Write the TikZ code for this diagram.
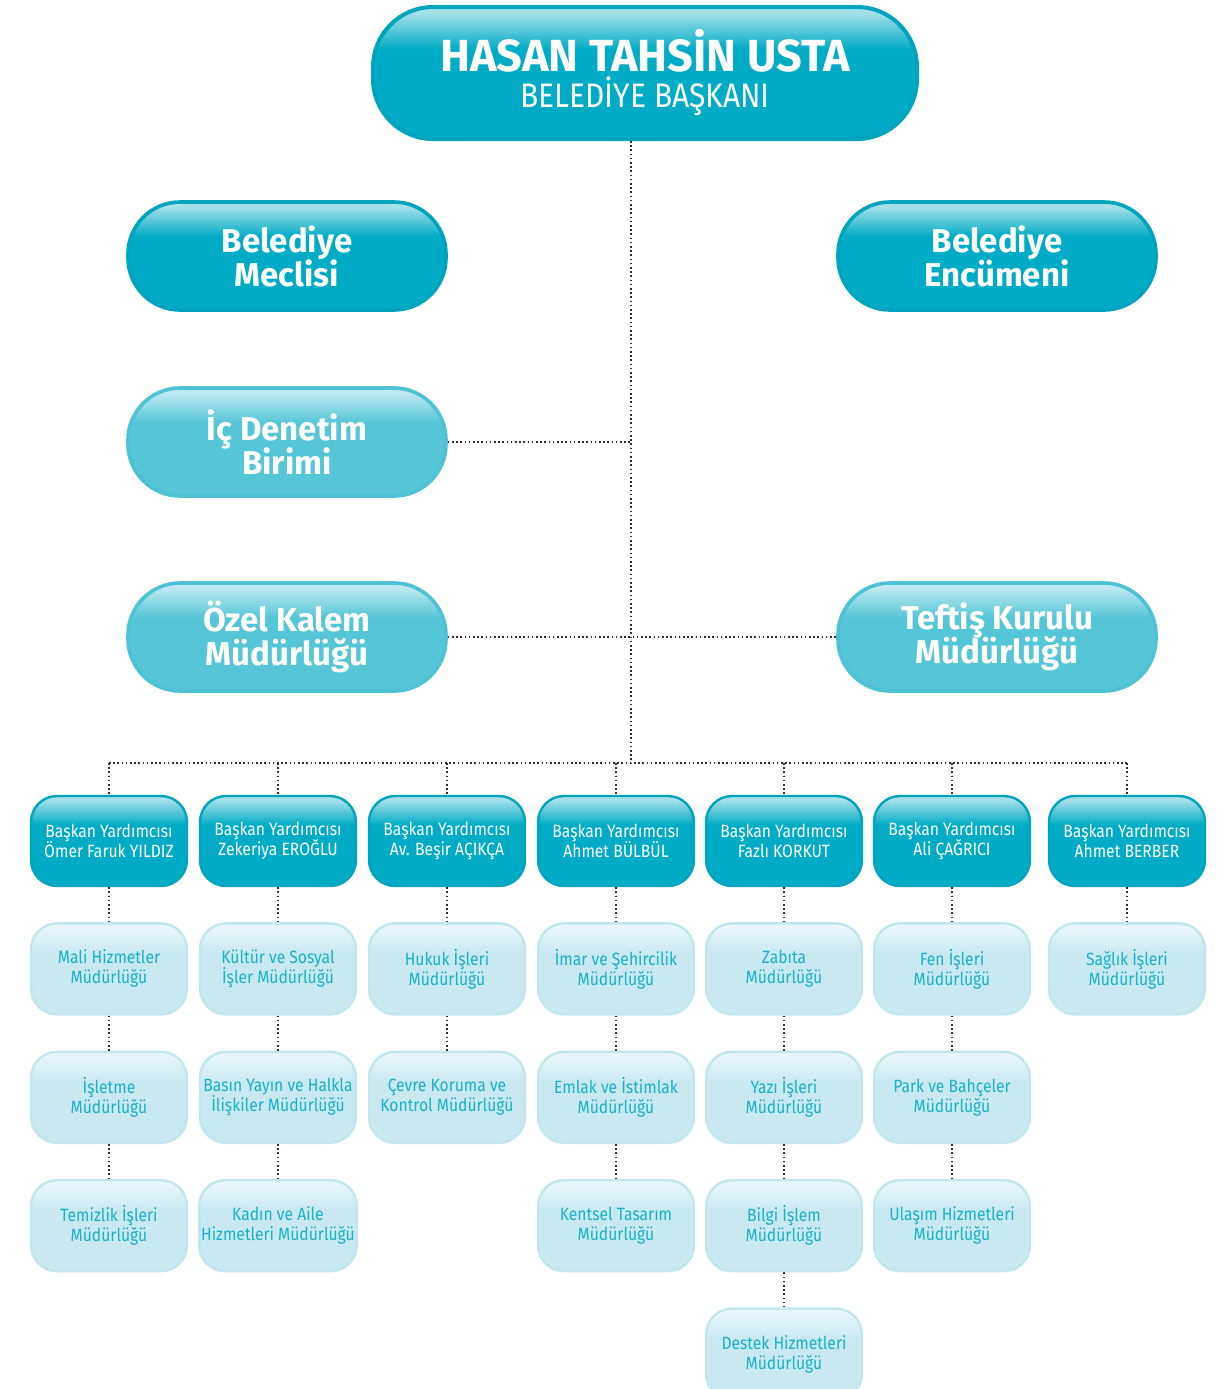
\documentclass[tikz,border=0pt]{standalone}
\usepackage{fontspec}
\setmainfont{Fira Sans}[FakeStretch=0.88]
\newfontfamily\headfont{Fira Sans}
\usepackage{tikz}
\usetikzlibrary{positioning,calc}
\newcommand{\tightlines}{\lineskiplimit -100pt\relax}
\definecolor{tealDark}{HTML}{00ACC5}
\definecolor{tealDarkHi}{HTML}{A6E0EA}
\definecolor{tealDarkEdge}{HTML}{00A4BD}
\definecolor{tealMid}{HTML}{55C6D8}
\definecolor{tealMidHi}{HTML}{BFE9F0}
\definecolor{tealMidEdge}{HTML}{4EC2D5}
\definecolor{tealLight}{HTML}{C9E9F0}
\definecolor{tealLightHi}{HTML}{EAF7FA}
\definecolor{tealLightEdge}{HTML}{C1E6EE}
\definecolor{tealText}{HTML}{19B0CA}
\definecolor{lineGray}{HTML}{2F2F2F}
\pgfdeclareverticalshading{glossDark}{100bp}{color(0bp)=(tealDark); color(59bp)=(tealDark); color(73bp)=(tealDarkHi); color(100bp)=(tealDarkHi)}
\pgfdeclareverticalshading{glossMid}{100bp}{color(0bp)=(tealMid); color(59bp)=(tealMid); color(73bp)=(tealMidHi); color(100bp)=(tealMidHi)}
\pgfdeclareverticalshading{glossLight}{100bp}{color(0bp)=(tealLight); color(59bp)=(tealLight); color(73bp)=(tealLightHi); color(100bp)=(tealLightHi)}
\tikzset{
  bossnode/.style={shade, shading=glossDark, draw=tealDarkEdge, line width=2pt,
                   rounded corners=30pt, minimum width=272pt, minimum height=66pt,
                   align=center, text=white, inner sep=2pt,
                   font=\fontsize{16.5}{18}\selectfont\tightlines},
  bignode/.style={shade, shading=glossDark, draw=tealDarkEdge, line width=1.8pt,
                  rounded corners=26pt, minimum width=159pt, minimum height=54pt,
                  align=center, text=white, inner sep=2pt,
                  font=\headfont\fontsize{16.5}{17}\selectfont\bfseries\tightlines},
  midnode/.style={bignode, shading=glossMid, draw=tealMidEdge},
  depnode/.style={shade, shading=glossDark, draw=tealDarkEdge, line width=1.2pt,
                  rounded corners=13pt, minimum width=78pt, minimum height=45pt,
                  align=center, text=white, inner sep=1pt,
                  font=\fontsize{8.9}{10}\selectfont\tightlines},
  unitnode/.style={depnode, shading=glossLight, draw=tealLightEdge, text=tealText,
                   minimum height=45.5pt},
  dotline/.style={draw=lineGray, line width=0.8pt, dash pattern=on 0.8pt off 1.3pt},
}
\begin{document}
\begin{tikzpicture}[x=0.5pt, y=-0.5pt, node distance=17.5pt]
\useasboundingbox (0,0) rectangle (1232,1389);

%% Baskan and councils
\node[bossnode] (baskan) at (645,73)
  {{\headfont\fontsize{22.5}{24}\selectfont\bfseries HASAN TAHSİN USTA}\\
   {\fontsize{17}{18}\selectfont BELEDİYE BAŞKANI}};
\node[bignode] (meclis) at (287,256) {Belediye\\Meclisi};
\node[bignode] (encumen) at (997,256) {Belediye\\Encümeni};
\node[midnode] (denetim) at (287,442) {İç Denetim\\Birimi};
\node[midnode] (kalem) at (287,637) {Özel Kalem\\Müdürlüğü};
\node[midnode] (teftis) at (997,637) {Teftiş Kurulu\\Müdürlüğü};

%% Deputies
\node[depnode] (dep1) at (109,841) {Başkan Yardımcısı\\Ömer Faruk YILDIZ};
\node[depnode] (dep2) at (278,841) {Başkan Yardımcısı\\Zekeriya EROĞLU};
\node[depnode] (dep3) at (447,841) {Başkan Yardımcısı\\Av. Beşir AÇIKÇA};
\node[depnode] (dep4) at (616,841) {Başkan Yardımcısı\\Ahmet BÜLBÜL};
\node[depnode] (dep5) at (784,841) {Başkan Yardımcısı\\Fazlı KORKUT};
\node[depnode] (dep6) at (952,841) {Başkan Yardımcısı\\Ali ÇAĞRICI};
\node[depnode] (dep7) at (1127,841) {Başkan Yardımcısı\\Ahmet BERBER};

%% Units
\node[unitnode, below=of dep1] (mali) {Mali Hizmetler\\Müdürlüğü};
\node[unitnode, below=of mali] (isletme) {İşletme\\Müdürlüğü};
\node[unitnode, below=of isletme] (temizlik) {Temizlik İşleri\\Müdürlüğü};

\node[unitnode, below=of dep2] (kultur) {Kültür ve Sosyal\\İşler Müdürlüğü};
\node[unitnode, below=of kultur] (basin) {Basın Yayın ve Halkla\\İlişkiler Müdürlüğü};
\node[unitnode, below=of basin] (kadin) {Kadın ve Aile\\Hizmetleri Müdürlüğü};

\node[unitnode, below=of dep3] (hukuk) {Hukuk İşleri\\Müdürlüğü};
\node[unitnode, below=of hukuk] (cevre) {Çevre Koruma ve\\Kontrol Müdürlüğü};

\node[unitnode, below=of dep4] (imar) {İmar ve Şehircilik\\Müdürlüğü};
\node[unitnode, below=of imar] (emlak) {Emlak ve İstimlak\\Müdürlüğü};
\node[unitnode, below=of emlak] (kentsel) {Kentsel Tasarım\\Müdürlüğü};

\node[unitnode, below=of dep5] (zabita) {Zabıta\\Müdürlüğü};
\node[unitnode, below=of zabita] (yazi) {Yazı İşleri\\Müdürlüğü};
\node[unitnode, below=of yazi] (bilgi) {Bilgi İşlem\\Müdürlüğü};
\node[unitnode, below=of bilgi] (destek) {Destek Hizmetleri\\Müdürlüğü};

\node[unitnode, below=of dep6] (fen) {Fen İşleri\\Müdürlüğü};
\node[unitnode, below=of fen] (park) {Park ve Bahçeler\\Müdürlüğü};
\node[unitnode, below=of park] (ulasim) {Ulaşım Hizmetleri\\Müdürlüğü};

\node[unitnode, below=of dep7] (saglik) {Sağlık İşleri\\Müdürlüğü};

%% Connectors
\coordinate (bus) at (631,763);
\draw[dotline] (baskan.south -| bus) -- (bus);
\draw[dotline] (denetim.east) -- (denetim.east -| bus);
\draw[dotline] (kalem.east) -- (teftis.west);
\draw[dotline] (dep1.north |- bus) -- (dep7.north |- bus);
\foreach \d in {dep1,dep2,dep3,dep4,dep5,dep6,dep7}
  \draw[dotline] (\d.north |- bus) -- (\d.north);

\draw[dotline] (dep1) -- (mali) (mali) -- (isletme) (isletme) -- (temizlik);
\draw[dotline] (dep2) -- (kultur) (kultur) -- (basin) (basin) -- (kadin);
\draw[dotline] (dep3) -- (hukuk) (hukuk) -- (cevre);
\draw[dotline] (dep4) -- (imar) (imar) -- (emlak) (emlak) -- (kentsel);
\draw[dotline] (dep5) -- (zabita) (zabita) -- (yazi) (yazi) -- (bilgi) (bilgi) -- (destek);
\draw[dotline] (dep6) -- (fen) (fen) -- (park) (park) -- (ulasim);
\draw[dotline] (dep7) -- (saglik);
\end{tikzpicture}
\end{document}
